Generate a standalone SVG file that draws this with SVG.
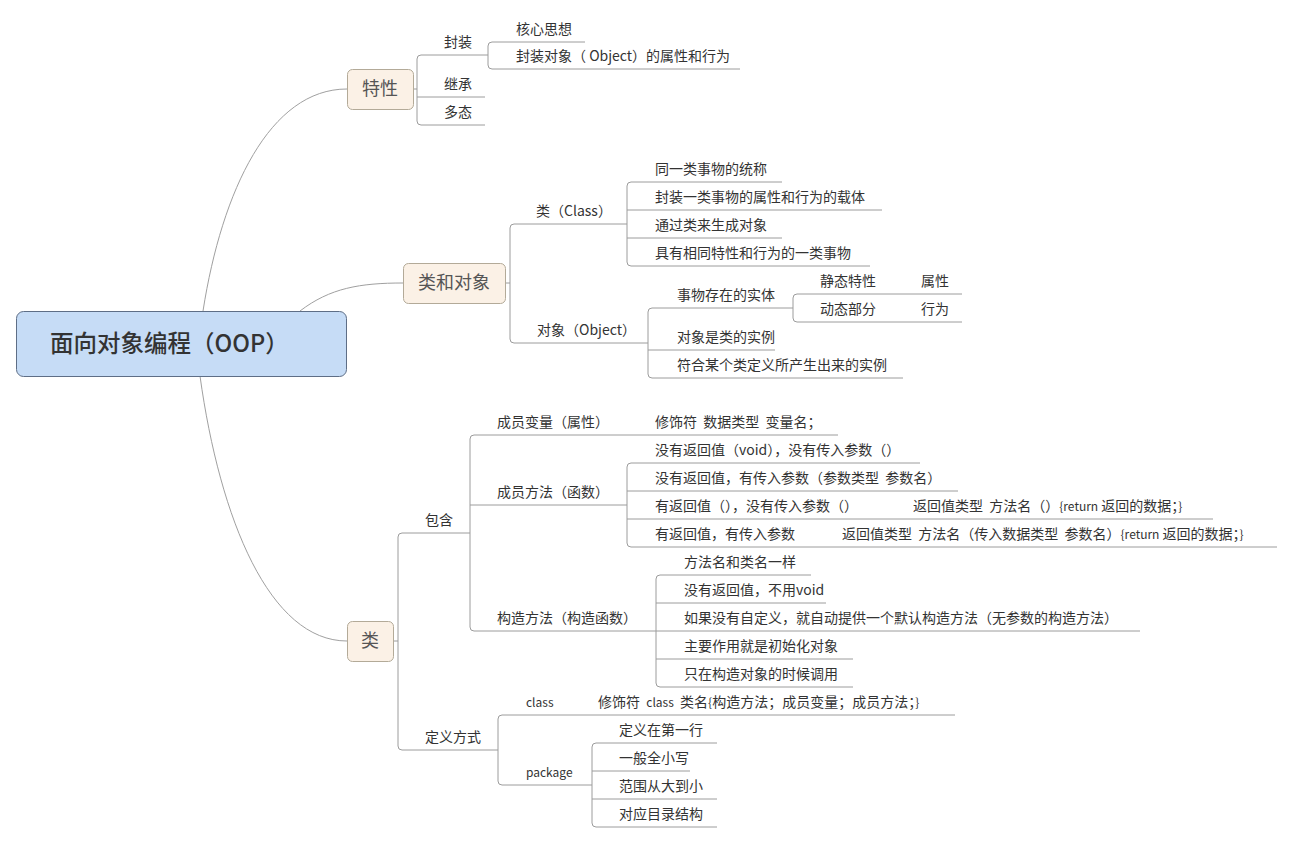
<svg xmlns="http://www.w3.org/2000/svg" width="1293" height="843" viewBox="0 0 1293 843">
<style>
.t{font-family:"Noto Sans CJK SC","Noto Sans",sans-serif;font-size:14px;fill:#333}
.s{font-size:12px}
.ln{stroke:#9c9c9c;stroke-width:1;fill:none}
.cv{stroke:#a0a0a0;stroke-width:1;fill:none}
.l1{fill:#fbf1e6;stroke:#b3aa98;stroke-width:1}
.l1t{font-family:"Noto Sans CJK SC","Noto Sans",sans-serif;font-size:18px;fill:#555;text-anchor:middle}
</style>
<rect width="1293" height="843" fill="#ffffff"/>
<g id="connectors">
<path class="cv" d="M203,311 C222,190 270,89 347,89"/>
<path class="cv" d="M300,311 C330,288 360,283 403,283"/>
<path class="cv" d="M200,376 C220,520 270,641 347,641"/>
<path class="ln" d="M413,89 H417"/>
<path class="ln" d="M505,283 H510"/>
<path class="ln" d="M393,641 H398"/>
<path class="ln" d="M421,55 Q417,55 417,59 V121 Q417,125 421,125"/>
<path class="ln" d="M492,42 Q488,42 488,46 V65 Q488,69 492,69"/>
<path class="ln" d="M514,224 Q510,224 510,228 V339 Q510,343 514,343"/>
<path class="ln" d="M631,182 Q627,182 627,186 V262 Q627,266 631,266"/>
<path class="ln" d="M652,308 Q648,308 648,312 V374 Q648,378 652,378"/>
<path class="ln" d="M797,294 Q793,294 793,298 V318 Q793,322 797,322"/>
<path class="ln" d="M402,533 Q398,533 398,537 V746 Q398,750 402,750"/>
<path class="ln" d="M474,435 Q470,435 470,439 V627 Q470,631 474,631"/>
<path class="ln" d="M631,463 Q627,463 627,467 V543 Q627,547 631,547"/>
<path class="ln" d="M660,575 Q656,575 656,579 V683 Q656,687 660,687"/>
<path class="ln" d="M502,715 Q498,715 498,719 V781 Q498,785 502,785"/>
<path class="ln" d="M596,743 Q592,743 592,747 V823 Q592,827 596,827"/>
</g>
<g id="root">
<rect x="16.5" y="311.5" width="330" height="65" rx="7" fill="#c6dcf6" stroke="#5e6e86" stroke-width="1"/>
<text x="50" y="352" style="font-family:'Noto Sans CJK SC','Noto Sans',sans-serif;font-size:23.5px;font-weight:500;fill:#333">面向对象编程（OOP）</text>
</g>
<g id="n-texing"><rect class="l1" x="347.5" y="69.5" width="66" height="40" rx="5"/><text class="l1t" x="380" y="95">特性</text></g>
<g id="n-leiheduixiang"><rect class="l1" x="403.5" y="263.5" width="102" height="40" rx="5"/><text class="l1t" x="454" y="289">类和对象</text></g>
<g id="n-lei"><rect class="l1" x="347.5" y="621.5" width="46" height="40" rx="5"/><text class="l1t" x="370" y="647">类</text></g>

<g id="n-fengzhuang"><path class="ln" d="M421,55 H488"/><text class="t" x="444" y="47">封装</text></g>
<g id="n-jicheng"><path class="ln" d="M417,97 H485"/><text class="t" x="444" y="89">继承</text></g>
<g id="n-duotai"><path class="ln" d="M421,125 H485"/><text class="t" x="444" y="117">多态</text></g>
<g id="n-hexin"><path class="ln" d="M492,42 H585"/><text class="t" x="516" y="34">核心思想</text></g>
<g id="n-fzdx"><path class="ln" d="M492,69 H740"/><text class="t" x="516" y="61">封装对象（ Object）的属性和行为</text></g>

<g id="n-class"><path class="ln" d="M514,224 H627"/><text class="t" x="536" y="216">类（Class）</text></g>
<g id="n-object"><path class="ln" d="M514,343 H648"/><text class="t" x="537" y="335">对象（Object）</text></g>
<g id="n-c1"><path class="ln" d="M631,182 H782"/><text class="t" x="655" y="174">同一类事物的统称</text></g>
<g id="n-c2"><path class="ln" d="M627,210 H882"/><text class="t" x="655" y="202">封装一类事物的属性和行为的载体</text></g>
<g id="n-c3"><path class="ln" d="M627,238 H782"/><text class="t" x="655" y="230">通过类来生成对象</text></g>
<g id="n-c4"><path class="ln" d="M631,266 H870"/><text class="t" x="655" y="258">具有相同特性和行为的一类事物</text></g>
<g id="n-o1"><path class="ln" d="M652,308 H793"/><text class="t" x="677" y="300">事物存在的实体</text></g>
<g id="n-o2"><path class="ln" d="M648,350 H775"/><text class="t" x="677" y="342">对象是类的实例</text></g>
<g id="n-o3"><path class="ln" d="M652,378 H903"/><text class="t" x="677" y="370">符合某个类定义所产生出来的实例</text></g>
<g id="n-static"><path class="ln" d="M797,294 H905"/><text class="t" x="820" y="286">静态特性</text></g>
<g id="n-dynamic"><path class="ln" d="M797,322 H905"/><text class="t" x="820" y="314">动态部分</text></g>
<g id="n-attr"><path class="ln" d="M905,294 H962"/><text class="t" x="921" y="286">属性</text></g>
<g id="n-behav"><path class="ln" d="M905,322 H962"/><text class="t" x="921" y="314">行为</text></g>

<g id="n-baohan"><path class="ln" d="M402,533 H470"/><text class="t" x="425" y="525">包含</text></g>
<g id="n-dingyi"><path class="ln" d="M402,750 H498"/><text class="t" x="425" y="742">定义方式</text></g>
<g id="n-field"><path class="ln" d="M474,435 H627"/><text class="t" x="497" y="427">成员变量（属性）</text></g>
<g id="n-field-def"><path class="ln" d="M627,435 H838"/><text class="t" x="655" y="427" xml:space="preserve">修饰符  数据类型  变量名；</text></g>
<g id="n-method"><path class="ln" d="M470,505 H627"/><text class="t" x="497" y="497">成员方法（函数）</text></g>
<g id="n-ctor"><path class="ln" d="M474,631 H656"/><text class="t" x="497" y="623">构造方法（构造函数）</text></g>
<g id="n-m1"><path class="ln" d="M631,463 H920"/><text class="t" x="655" y="455">没有返回值（void），没有传入参数（）</text></g>
<g id="n-m2"><path class="ln" d="M627,491 H958"/><text class="t" x="655" y="483" xml:space="preserve">没有返回值，有传入参数（参数类型  参数名）</text></g>
<g id="n-m3"><path class="ln" d="M627,519 H885"/><text class="t" x="655" y="511">有返回值（），没有传入参数（）</text></g>
<g id="n-m3d"><path class="ln" d="M885,519 H1213"/><text class="t" x="913" y="511" xml:space="preserve">返回值类型  方法名（）<tspan class="s">{return</tspan> 返回的数据；<tspan class="s">}</tspan></text></g>
<g id="n-m4"><path class="ln" d="M631,547 H814"/><text class="t" x="655" y="539">有返回值，有传入参数</text></g>
<g id="n-m4d"><path class="ln" d="M814,547 H1277"/><text class="t" x="842" y="539" xml:space="preserve">返回值类型  方法名（传入数据类型  参数名）<tspan class="s">{return</tspan> 返回的数据；<tspan class="s">}</tspan></text></g>
<g id="n-k1"><path class="ln" d="M660,575 H811"/><text class="t" x="684" y="567">方法名和类名一样</text></g>
<g id="n-k2"><path class="ln" d="M656,603 H826"/><text class="t" x="684" y="595">没有返回值，不用void</text></g>
<g id="n-k3"><path class="ln" d="M656,631 H1140"/><text class="t" x="684" y="623">如果没有自定义，就自动提供一个默认构造方法（无参数的构造方法）</text></g>
<g id="n-k4"><path class="ln" d="M656,659 H853"/><text class="t" x="684" y="651">主要作用就是初始化对象</text></g>
<g id="n-k5"><path class="ln" d="M660,687 H853"/><text class="t" x="684" y="679">只在构造对象的时候调用</text></g>
<g id="n-classdef"><path class="ln" d="M502,715 H572"/><text class="t s" x="526" y="707">class</text></g>
<g id="n-classdef-d"><path class="ln" d="M572,715 H955"/><text class="t" x="598" y="707" xml:space="preserve">修饰符  <tspan class="s">class</tspan>  类名<tspan class="s">{</tspan>构造方法；成员变量；成员方法；<tspan class="s">}</tspan></text></g>
<g id="n-package"><path class="ln" d="M502,785 H592"/><text class="t s" x="526" y="777">package</text></g>
<g id="n-p1"><path class="ln" d="M596,743 H717"/><text class="t" x="619" y="735">定义在第一行</text></g>
<g id="n-p2"><path class="ln" d="M592,771 H690"/><text class="t" x="619" y="763">一般全小写</text></g>
<g id="n-p3"><path class="ln" d="M592,799 H717"/><text class="t" x="619" y="791">范围从大到小</text></g>
<g id="n-p4"><path class="ln" d="M596,827 H717"/><text class="t" x="619" y="819">对应目录结构</text></g>
</svg>
